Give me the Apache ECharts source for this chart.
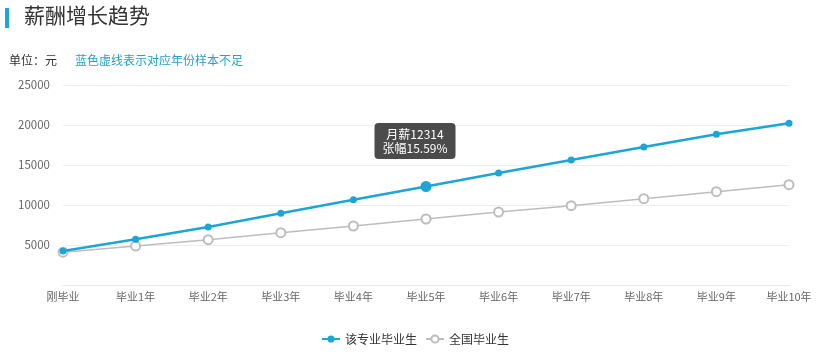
<!DOCTYPE html>
<html>
<head>
<meta charset="utf-8">
<script src="https://cdn.jsdelivr.net/npm/echarts@6/dist/echarts.min.js"></script>
<style>html,body{margin:0;padding:0;background:#fff;}#main{width:830px;height:360px;}</style>
</head>
<body>
<div id="main"></div>
<script>
const categories = ['刚毕业','毕业1年','毕业2年','毕业3年','毕业4年','毕业5年','毕业6年','毕业7年','毕业8年','毕业9年','毕业10年'];
const majorSalary = [4250, 5710, 7250, 8960, 10653, 12314, 14000, 15625, 17250, 18840, 20210];
const nationalSalary = [4100, 4870, 5660, 6540, 7375, 8250, 9125, 9920, 10790, 11660, 12540];
const yTicks = [0, 5000, 10000, 15000, 20000, 25000];
const highlightIndex = 5;
const highlightText = '月薪12314\n张幅15.59%';

const FONT = '"Noto Sans CJK SC", "Noto Sans", sans-serif';
const chart = echarts.init(document.getElementById('main'));
const blue = '#1ea5d8';
const gray = '#bdbdbd';

const majorData = majorSalary.map((v, i) => {
  if (i !== highlightIndex) return v;
  return {
    value: v,
    symbolSize: 11,
    label: {
      show: true,
      position: 'top',
      distance: 22,
      offset: [-11, 0],
      formatter: highlightText,
      color: '#fff',
      fontSize: 12,
      lineHeight: 14,
      fontFamily: FONT,
      backgroundColor: 'rgba(60,60,60,0.92)',
      borderRadius: 4,
      padding: [4, 8, 4, 8],
      align: 'center'
    }
  };
});

chart.setOption({
  animation: false,
  textStyle: { fontFamily: FONT },
  graphic: [
    { type: 'rect', shape: { x: 5, y: 8, width: 4, height: 20 }, style: { fill: '#1ea5d8' } },
    { type: 'text', left: 24, top: 5, style: { text: '薪酬增长趋势', fontSize: 21, fill: '#333', fontFamily: FONT } },
    { type: 'text', left: 9, top: 54, style: { text: '单位：元', fontSize: 12, fill: '#333', fontFamily: FONT } },
    { type: 'text', left: 75, top: 54, style: { text: '蓝色虚线表示对应年份样本不足', fontSize: 12, fill: '#2a9fc9', fontFamily: FONT } }
  ],
  legend: {
    bottom: 10,
    left: 'center',
    itemGap: 8,
    itemWidth: 18,
    itemHeight: 9,
    textStyle: { color: '#333', fontSize: 12, fontFamily: FONT },
    data: ['该专业毕业生', '全国毕业生']
  },
  grid: { left: 63, right: 41, top: 85, bottom: 75 },
  xAxis: {
    type: 'category',
    boundaryGap: false,
    data: categories,
    axisLine: { lineStyle: { color: '#e6e6e6' } },
    axisTick: { show: false },
    axisLabel: { color: '#666', fontSize: 11, margin: 6, fontFamily: FONT }
  },
  yAxis: {
    type: 'value',
    min: yTicks[0],
    max: yTicks[yTicks.length - 1],
    interval: yTicks[1] - yTicks[0],
    axisLine: { show: false },
    axisTick: { show: false },
    axisLabel: { color: '#666', fontSize: 11.5, margin: 13, fontFamily: FONT, formatter: v => v === 0 ? '' : String(v) },
    splitLine: { lineStyle: { color: '#eeeeee' } }
  },
  series: [
    {
      name: '该专业毕业生',
      type: 'line',
      data: majorData,
      symbol: 'circle',
      symbolSize: 7,
      itemStyle: { color: blue },
      lineStyle: { color: blue, width: 2.5 },
      z: 3
    },
    {
      name: '全国毕业生',
      type: 'line',
      data: nationalSalary,
      symbol: 'emptyCircle',
      symbolSize: 9,
      itemStyle: { color: gray, borderWidth: 1.5 },
      lineStyle: { color: gray, width: 1.5 },
      z: 2
    }
  ]
});
</script>
</body>
</html>
